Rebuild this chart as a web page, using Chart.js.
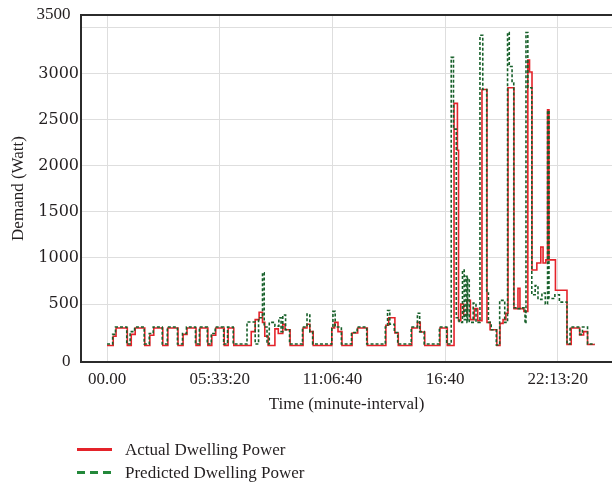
<!DOCTYPE html>
<html>
<head>
<meta charset="utf-8">
<script src="https://cdn.jsdelivr.net/npm/chart.js@4.4.1/dist/chart.umd.min.js"></script>
<style>
html, body { margin: 0; padding: 0; background: #fff; }
#wrap { position: relative; width: 612px; height: 485px; }
#legend { position: absolute; left: 77px; top: 438px; font-family: "Liberation Serif", serif; font-size: 17px; color: #231f20; }
.item { display: flex; align-items: center; height: 23px; }
.swatch { width: 35px; height: 3px; margin-right: 13px; }
</style>
</head>
<body>
<div id="wrap">
  <canvas id="demandChart" width="612" height="485"></canvas>
  <div id="legend"></div>
</div>
<script>
// time in seconds from midnight, power in Watt (value holds until next change)
const actualTime = [0, 1100, 1600, 3600, 4300, 5000, 6700, 7600, 8300, 9900, 10800, 12600, 13500, 14200, 15800, 16500, 17900, 18600, 19300, 20800, 21500, 22500,
    25600, 26300, 27000, 27600, 28000, 28600, 29800, 30400, 31200, 31600, 32500, 34800, 35500, 36000, 36600, 39900, 40400, 41000, 41700, 43500, 44500, 46200,
    49500, 50000, 51100, 51700, 54100, 55100, 55600, 56400, 59100, 60400,
    61600, 62200, 62400, 62800, 63300, 63900, 64500, 65200, 65800, 66560, 67450, 68000, 69200, 69760, 70300, 70800, 71180, 72240, 72950, 73300, 74000,
    74700, 75000, 75440, 76300, 77000, 77400, 77900, 78200, 78450, 79600, 81650, 82400, 83900, 84600, 85300, 86600];
const actualPower = [50, 150, 240, 50, 170, 240, 50, 160, 240, 50, 240, 50, 170, 240, 50, 240, 50, 160, 240, 50, 240, 50,
    200, 330, 410, 300, 150, 50, 230, 180, 280, 220, 50, 240, 280, 200, 50, 240, 300, 200, 50, 185, 240, 50,
    270, 350, 185, 50, 240, 300, 196, 50, 240, 50,
    2680, 2170, 320, 500, 380, 540, 330, 450, 320, 2830, 300, 220, 50, 290, 330, 400, 2850, 450, 670, 450, 420,
    3150, 3020, 870, 945, 1120, 945, 980, 2610, 980, 650, 60, 240, 163, 200, 60, 60];

const predictedTime = [0, 1000, 1500, 3500, 4100, 4900, 6600, 7500, 8200, 9800, 10700, 12500, 13400, 14100, 15700, 16400, 17800, 18500, 19200, 20700, 21400, 22400,
    24850, 26300, 26900, 27600, 27900, 28400, 28800, 29800, 30500, 30900, 31200, 31700, 32400, 34700, 35500, 36000, 36500, 39900, 40100, 40500, 41600,
    43400, 44400, 46100, 49400, 49800, 50200, 51000, 51600, 54000, 55100, 55500, 56300, 59000, 60300,
    61100, 61500, 62000, 62500, 63100, 63400, 63700, 63900, 64000, 64300, 65000, 65500, 66200, 66700, 67400, 67700, 68200, 69100, 69700, 70600,
    71100, 71400, 71900, 72200, 73000, 73800, 74200, 74370, 74700, 75400, 76000, 76500, 77200, 77800, 78200, 78450, 79500, 80300,
    81650, 82200, 83900, 84400, 85300, 86600];
const predictedPower = [65, 170, 250, 65, 200, 250, 65, 180, 250, 65, 250, 65, 180, 250, 65, 250, 65, 180, 250, 65, 250, 65,
    305, 65, 350, 840, 250, 65, 300, 260, 350, 200, 380, 220, 65, 250, 390, 200, 65, 250, 420, 250, 65,
    190, 250, 65, 250, 430, 280, 190, 65, 250, 400, 200, 65, 250, 65,
    3180, 2400, 350, 300, 870, 330, 800, 300, 780, 300, 510, 300, 3420, 2830, 620, 300, 220, 55, 540, 300,
    3450, 3080, 2900, 460, 450, 460, 290, 3450, 2850, 600, 700, 550, 620, 500, 2600, 560, 600, 520,
    65, 250, 170, 250, 65, 65];

const xTickValues = [0, 20000, 40000, 60000, 80000];
const xTickLabels = ['00.00', '05:33:20', '11:06:40', '16:40', '22:13:20'];
const yTickValues = [-130, 500, 1000, 1500, 2000, 2500, 3000, 3500, 3640];
const yTickLabels = ['0  ', '500', '1000', '1500', '2000', '2500', '3000', '', '3500  '];

const Y_MIN = -130, Y_MAX = 3640;
const SERIF = '"Liberation Serif", "Times New Roman", serif';
const TEXT = '#231f20';
const GRID = '#dedede';
const AXIS = '#2b2b2b';

const seriesList = [
    { label: 'Predicted Dwelling Power', time: predictedTime, power: predictedPower, plot: '#17602a', swatch: '#23883a', dash: [3, 2], order: 1 },
    { label: 'Actual Dwelling Power', time: actualTime, power: actualPower, plot: '#e4232a', swatch: '#e4232a', dash: [], order: 2 }
];

const topBorder = {
    id: 'topBorder',
    afterDraw(chart) {
        const { ctx, chartArea } = chart;
        ctx.save();
        ctx.strokeStyle = AXIS;
        ctx.lineWidth = 2;
        ctx.beginPath();
        ctx.moveTo(chartArea.left - 1, chartArea.top);
        ctx.lineTo(chartArea.right, chartArea.top);
        ctx.stroke();
        ctx.restore();
    }
};

const ctx = document.getElementById('demandChart').getContext('2d');
new Chart(ctx, {
    type: 'line',
    data: {
        datasets: seriesList.map(s => ({
            label: s.label,
            data: s.time.map((t, i) => ({ x: t, y: s.power[i] })),
            borderColor: s.plot,
            borderWidth: 1.6,
            borderDash: s.dash,
            stepped: 'before',
            pointRadius: 0,
            fill: false,
            order: s.order
        }))
    },
    options: {
        responsive: false,
        animation: false,
        layout: { padding: { top: 15, left: 0, right: 0, bottom: 65 } },
        plugins: { legend: { display: false }, tooltip: { enabled: false } },
        scales: {
            x: {
                type: 'linear',
                min: -4620,
                max: 89640,
                afterBuildTicks: s => { s.ticks = xTickValues.map(v => ({ value: v })); },
                afterFit: s => { s.height = 58; },
                ticks: {
                    autoSkip: false,
                    maxRotation: 0,
                    padding: 7,
                    color: TEXT,
                    font: { family: SERIF, size: 17 },
                    callback: (v, i) => xTickLabels[i]
                },
                grid: { color: GRID, drawTicks: false },
                border: { color: AXIS, width: 2 },
                title: { display: true, text: 'Time (minute-interval)', color: TEXT, font: { family: SERIF, size: 17 }, padding: { top: 0, bottom: 5 } }
            },
            y: {
                min: Y_MIN,
                max: Y_MAX,
                afterBuildTicks: s => { s.ticks = yTickValues.map(v => ({ value: v })); },
                afterFit: s => { s.width = 81; },
                ticks: {
                    padding: 2,
                    color: TEXT,
                    font: c => (c.index === 0 || c.index === yTickValues.length - 1)
                        ? { family: SERIF, size: 17 }
                        : { family: '"DejaVu Serif", serif', size: 16 },
                    callback: (v, i) => yTickLabels[i]
                },
                grid: {
                    drawTicks: false,
                    color: c => (c.tick && (c.tick.value === Y_MIN || c.tick.value === Y_MAX)) ? 'rgba(0,0,0,0)' : GRID
                },
                border: { color: AXIS, width: 2 },
                title: { display: true, text: 'Demand (Watt)', color: TEXT, font: { family: SERIF, size: 17 }, padding: { top: 8, bottom: 0 } }
            }
        }
    },
    plugins: [topBorder]
});

// legend: actual first, predicted second
const legendEl = document.getElementById('legend');
seriesList.slice().reverse().forEach(s => {
    const item = document.createElement('div');
    item.className = 'item';
    const bg = s.dash.length ? `repeating-linear-gradient(90deg, ${s.swatch} 0 8px, transparent 8px 13px)` : s.swatch;
    item.innerHTML = `<span class="swatch" style="background: ${bg}"></span><span>${s.label}</span>`;
    legendEl.appendChild(item);
});
</script>
</body>
</html>
